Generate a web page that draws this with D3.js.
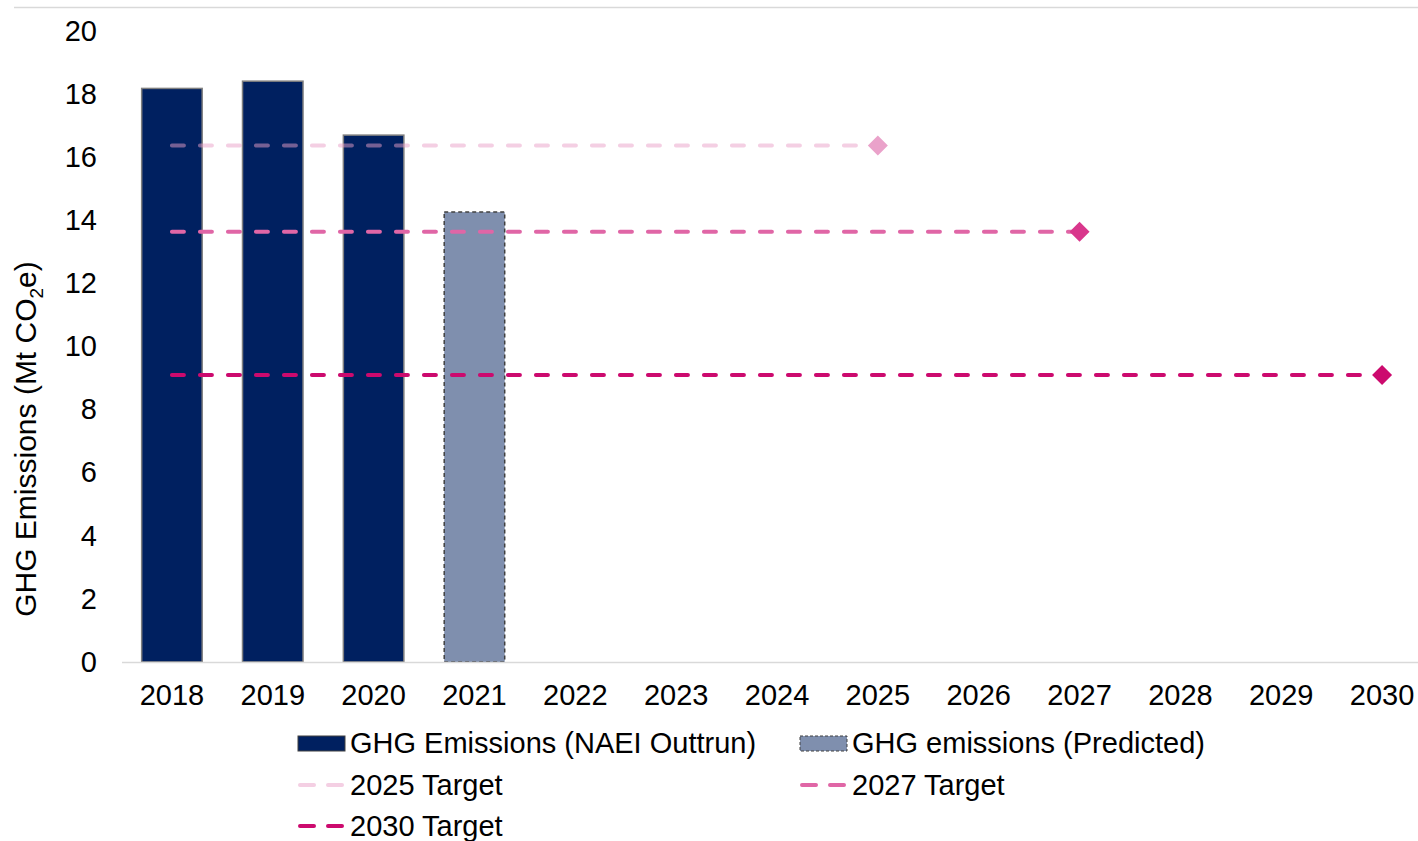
<!DOCTYPE html>
<html>
<head>
<meta charset="utf-8">
<script src="https://cdn.jsdelivr.net/npm/d3@7"></script>
<style>
  body { margin: 0; background: #fff; }
  text { font-family: "Liberation Sans", Arial, sans-serif; fill: #000; }
</style>
</head>
<body>
<div class="chart"></div>
<script>
var years = ["2018", "2019", "2020", "2021", "2022", "2023", "2024", "2025", "2026", "2027", "2028", "2029", "2030"];
var outturnYears = ["2018", "2019", "2020"];
var outturnValues = [18.18, 18.41, 16.70];
var predictedYears = ["2021"];
var predictedValues = [14.26];
var targetNames = ["2025 Target", "2027 Target", "2030 Target"];
var targetYears = ["2025", "2027", "2030"];
var targetValues = [16.37, 13.64, 9.10];
var yTicks = [0, 2, 4, 6, 8, 10, 12, 14, 16, 18, 20];

var w = 1418;
var h = 841;

var lineColors = ["#e9a0c8", "#e066a6", "#cc0a6e"];
var lineOpacity = [0.5, 1, 1];
var markerColors = ["#eaa2ca", "#d9378c", "#cc0a6e"];

var svg = d3.select(".chart")
  .append("svg")
  .attr("width", w)
  .attr("height", h);

var xScale = d3.scaleBand()
  .domain(years)
  .range([121.5, 1432.5])
  .paddingInner(0.4)
  .paddingOuter(0.2);

var yScale = d3.scaleLinear()
  .domain([0, 20])
  .range([662, 31]);

// top border line
svg.append("line")
  .attr("x1", 14).attr("x2", w)
  .attr("y1", 7.5).attr("y2", 7.5)
  .attr("stroke", "#d9d9d9")
  .attr("stroke-width", 1.5);

// bars
svg.selectAll(".outturn")
  .data(outturnYears)
  .enter()
  .append("rect")
  .attr("class", "outturn")
  .attr("x", function(d) { return xScale(d); })
  .attr("y", function(d, i) { return yScale(outturnValues[i]); })
  .attr("width", xScale.bandwidth())
  .attr("height", function(d, i) { return yScale(0) - yScale(outturnValues[i]); })
  .attr("fill", "#002060")
  .attr("stroke", "#7f7f7f")
  .attr("stroke-width", 1.5);

svg.selectAll(".predicted")
  .data(predictedYears)
  .enter()
  .append("rect")
  .attr("class", "predicted")
  .attr("x", function(d) { return xScale(d); })
  .attr("y", function(d, i) { return yScale(predictedValues[i]); })
  .attr("width", xScale.bandwidth())
  .attr("height", function(d, i) { return yScale(0) - yScale(predictedValues[i]); })
  .attr("fill", "#7f8fae")
  .attr("stroke", "#404040")
  .attr("stroke-width", 1.5)
  .attr("stroke-dasharray", "4,3");

// x axis
var xAxis = svg.append("g")
  .attr("transform", "translate(0," + yScale(0) + ")")
  .call(d3.axisBottom(xScale).tickSize(0).tickPadding(22));
xAxis.select(".domain").remove();
xAxis.selectAll("text")
  .style("font-size", "29px")
  .style("font-family", "Liberation Sans, Arial, sans-serif");
svg.append("line")
  .attr("x1", 122).attr("x2", w)
  .attr("y1", yScale(0) + 0.5).attr("y2", yScale(0) + 0.5)
  .attr("stroke", "#d9d9d9")
  .attr("stroke-width", 1.5);

// y axis
var yAxis = svg.append("g")
  .attr("transform", "translate(110,0)")
  .call(d3.axisLeft(yScale).tickValues(yTicks).tickSize(0).tickPadding(13));
yAxis.select(".domain").remove();
yAxis.selectAll("text")
  .style("font-size", "29px")
  .style("font-family", "Liberation Sans, Arial, sans-serif");

// y axis title
var yTitle = svg.append("text")
  .attr("transform", "translate(36," + 439 + ") rotate(-90)")
  .attr("text-anchor", "middle")
  .style("font-size", "30px");
yTitle.append("tspan").text("GHG Emissions (Mt CO");
yTitle.append("tspan").attr("dy", 7).style("font-size", "19px").text("2");
yTitle.append("tspan").attr("dy", -7).text("e)");

// target lines
var startX = xScale(years[0]) + xScale.bandwidth() / 2;
targetYears.forEach(function(yr, i) {
  var endX = xScale(yr) + xScale.bandwidth() / 2;
  var yy = yScale(targetValues[i]);
  svg.append("line")
    .attr("x1", startX).attr("x2", endX)
    .attr("y1", yy).attr("y2", yy)
    .attr("stroke", lineColors[i])
    .attr("stroke-opacity", lineOpacity[i])
    .attr("stroke-width", 4)
    .attr("stroke-linecap", "round")
    .attr("stroke-dasharray", "12,16");
  svg.append("path")
    .attr("d", d3.symbol().type(d3.symbolSquare).size(200))
    .attr("transform", "translate(" + endX + "," + yy + ") rotate(45)")
    .attr("fill", markerColors[i]);
});

// legend
var legend = svg.append("g");
var lx = [298, 800];

var barItems = [
  { name: "GHG Emissions (NAEI Outtrun)", fill: "#002060", stroke: "#404040", dash: null },
  { name: "GHG emissions (Predicted)", fill: "#7f8fae", stroke: "#404040", dash: "3,2" }
];
barItems.forEach(function(d, i) {
  legend.append("rect")
    .attr("x", lx[i]).attr("y", 736)
    .attr("width", 47).attr("height", 15)
    .attr("fill", d.fill)
    .attr("stroke", d.stroke)
    .attr("stroke-width", 1)
    .attr("stroke-dasharray", d.dash);
  legend.append("text")
    .attr("x", lx[i] + 52).attr("y", 753)
    .style("font-size", "29px")
    .text(d.name);
});

targetNames.forEach(function(name, i) {
  var col = i % 2;
  var row = Math.floor(i / 2);
  var yy = 785 + row * 41;
  legend.append("line")
    .attr("x1", lx[col] + 2).attr("x2", lx[col] + 46)
    .attr("y1", yy).attr("y2", yy)
    .attr("stroke", lineColors[i])
    .attr("stroke-opacity", lineOpacity[i])
    .attr("stroke-width", 4)
    .attr("stroke-linecap", "round")
    .attr("stroke-dasharray", "14,14");
  legend.append("text")
    .attr("x", lx[col] + 52).attr("y", yy + 10)
    .style("font-size", "29px")
    .text(name);
});
</script>
</body>
</html>
